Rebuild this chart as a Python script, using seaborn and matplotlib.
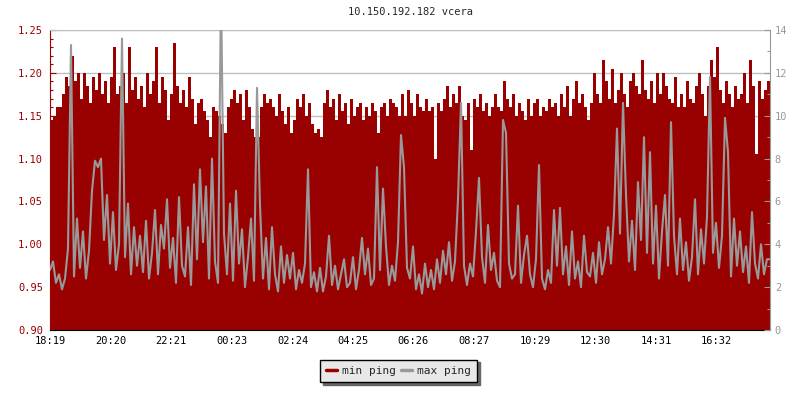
import matplotlib
matplotlib.use("Agg")
import numpy as np
import pandas as pd
import seaborn as sns
from matplotlib import pyplot as plt
from matplotlib.lines import Line2D
from matplotlib.ticker import MultipleLocator

TITLE = "10.150.192.182 vcera"
START = "18:19"
STEP_MIN = 6  # one sample every 6 minutes, 24 h window

tick_labels = ["18:19", "20:20", "22:21", "00:23", "02:24", "04:25",
               "06:26", "08:27", "10:29", "12:30", "14:31", "16:32"]

# min ping, left axis (ms)
min_ping = [
    1.145, 1.150, 1.160, 1.160, 1.175, 1.195, 1.185, 1.220, 1.190, 1.200,
    1.170, 1.200, 1.185, 1.165, 1.195, 1.180, 1.200, 1.175, 1.190, 1.165,
    1.195, 1.230, 1.175, 1.185, 1.200, 1.165, 1.230, 1.180, 1.195, 1.170,
    1.185, 1.160, 1.200, 1.175, 1.190, 1.230, 1.165, 1.195, 1.180, 1.145,
    1.175, 1.235, 1.185, 1.165, 1.180, 1.160, 1.195, 1.170, 1.140, 1.165,
    1.170, 1.155, 1.145, 1.125, 1.160, 1.155, 1.150, 1.140, 1.130, 1.160,
    1.170, 1.180, 1.165, 1.175, 1.145, 1.180, 1.160, 1.135, 1.125, 1.125,
    1.160, 1.175, 1.165, 1.170, 1.160, 1.150, 1.175, 1.155, 1.140, 1.160,
    1.130, 1.145, 1.170, 1.160, 1.175, 1.150, 1.165, 1.140, 1.130, 1.135,
    1.125, 1.165, 1.180, 1.160, 1.170, 1.145, 1.175, 1.155, 1.165, 1.140,
    1.170, 1.150, 1.160, 1.165, 1.145, 1.160, 1.150, 1.165, 1.155, 1.130,
    1.160, 1.165, 1.150, 1.170, 1.165, 1.160, 1.150, 1.175, 1.150, 1.180,
    1.165, 1.150, 1.175, 1.160, 1.155, 1.170, 1.155, 1.160, 1.100, 1.165,
    1.155, 1.170, 1.185, 1.160, 1.175, 1.165, 1.185, 1.150, 1.145, 1.165,
    1.110, 1.170, 1.160, 1.175, 1.155, 1.165, 1.150, 1.160, 1.175, 1.160,
    1.155, 1.190, 1.170, 1.160, 1.175, 1.150, 1.165, 1.155, 1.145, 1.170,
    1.150, 1.165, 1.170, 1.150, 1.160, 1.155, 1.170, 1.160, 1.165, 1.150,
    1.175, 1.160, 1.185, 1.150, 1.170, 1.190, 1.165, 1.175, 1.160, 1.145,
    1.165, 1.200, 1.175, 1.165, 1.215, 1.190, 1.170, 1.205, 1.165, 1.180,
    1.200, 1.175, 1.160, 1.190, 1.200, 1.185, 1.175, 1.215, 1.180, 1.170,
    1.190, 1.165, 1.200, 1.175, 1.200, 1.185, 1.170, 1.165, 1.195, 1.160,
    1.175, 1.160, 1.190, 1.170, 1.165, 1.185, 1.200, 1.175, 1.150, 1.185,
    1.215, 1.195, 1.230, 1.180, 1.165, 1.190, 1.175, 1.160, 1.185, 1.170,
    1.175, 1.200, 1.165, 1.215, 1.185, 1.105, 1.190, 1.170, 1.180, 1.190,
]

# max ping, right axis (ms)
max_ping = [
    2.8, 3.2, 2.2, 2.6, 1.9, 2.4, 3.8, 13.3, 2.5, 5.2,
    2.9, 4.6, 2.4, 3.7, 6.5, 7.9, 7.6, 8.0, 4.2, 6.3,
    3.1, 5.5, 2.8, 4.0, 13.6, 3.4, 5.9, 2.6, 4.8, 3.0,
    4.4, 2.7, 5.1, 2.4, 3.6, 5.6, 2.6, 4.9, 3.8, 6.1,
    2.9, 4.3, 2.2, 6.2, 3.0, 2.5, 4.8, 2.1, 6.8, 3.3,
    7.5, 4.1, 6.7, 2.4, 8.0, 3.2, 2.2, 16.0, 4.5, 2.6,
    5.9, 2.3, 6.5, 3.1, 4.7, 2.0, 3.4, 5.2, 2.3, 11.3,
    5.8, 2.4, 4.3, 1.9, 4.8, 2.6, 1.8, 3.9, 2.2, 3.5,
    2.4, 3.6, 1.9, 2.8, 2.2, 3.1, 7.5, 2.0, 2.7, 1.8,
    2.9, 1.8, 2.5, 4.4, 2.1, 3.0, 1.9, 2.6, 3.3, 2.0,
    2.2, 3.4, 1.9, 2.8, 4.3, 2.6, 3.8, 2.1, 2.4, 7.6,
    2.8, 6.6, 3.9, 2.1, 3.0, 2.3, 4.1, 9.1, 7.6, 2.9,
    2.4, 3.9, 1.9, 2.6, 1.7, 3.1, 2.0, 2.8, 1.9, 3.3,
    2.2, 3.7, 2.6, 4.1, 2.3, 3.2, 6.1, 10.6, 3.0, 2.1,
    3.1, 2.5, 4.6, 7.1, 3.4, 2.2, 4.9, 2.8, 3.6, 2.3,
    2.0, 9.8, 9.2, 3.1, 2.4, 2.6, 5.8, 2.2, 3.5, 4.4,
    2.6, 2.0, 3.3, 7.7, 2.4, 1.9, 2.8, 2.2, 5.6, 3.0,
    5.7, 2.6, 3.9, 2.1, 4.6, 2.4, 3.2, 2.0, 4.4, 2.7,
    2.5, 3.6, 2.2, 4.1, 2.6, 3.3, 4.8, 3.1, 5.4, 9.4,
    4.5, 10.6, 6.3, 3.2, 5.1, 2.8, 6.9, 4.2, 9.0, 3.6,
    8.3, 3.1, 5.8, 2.4, 4.6, 6.3, 3.0, 9.7, 4.4, 2.6,
    5.2, 2.8, 4.1, 2.3, 3.4, 6.1, 2.6, 4.7, 3.1, 5.3,
    11.8, 3.6, 5.0, 2.9, 4.4, 9.9, 8.3, 2.5, 5.2, 3.0,
    4.6, 2.7, 3.9, 2.2, 5.5, 3.1, 2.4, 4.0, 2.6, 3.3,
]

RED = "#990000"
GRAY = "#999999"
GRID = "#c0c0c0"
FS = 7.5


def minutes_from_start(label):
    h, m = map(int, label.split(":"))
    sh, sm = map(int, START.split(":"))
    return ((h * 60 + m) - (sh * 60 + sm)) % 1440


df = pd.DataFrame({"t": np.arange(len(min_ping)) * STEP_MIN,
                   "min_ping": min_ping, "max_ping": max_ping})
# repeat the last sample at the window end so the data reaches the right edge
df = pd.concat([df, df.iloc[[-1]].assign(t=1440)], ignore_index=True)

sns.set_style("white")
plt.rcParams["font.family"] = ["DejaVu Sans Mono"]
plt.rcParams["font.size"] = FS

fig = plt.figure(figsize=(8, 4), dpi=100)
ax = fig.add_axes([0.0625, 0.175, 0.9, 0.75])

ax.fill_between(df["t"], 0.9, df["min_ping"], step="post", color=RED, lw=0)
ax.set_xlim(0, 1440)
ax.set_ylim(0.90, 1.25)
ax.yaxis.set_major_locator(MultipleLocator(0.05))
ax.yaxis.set_minor_locator(MultipleLocator(0.01))
ax.yaxis.set_major_formatter(plt.FormatStrFormatter("%.2f"))
ax.set_xticks([minutes_from_start(l) for l in tick_labels])
ax.set_xticklabels(tick_labels)
ax.grid(axis="y", color=GRID, lw=1)
ax.grid(axis="x", visible=False)
ax.set_axisbelow(True)
ax.tick_params(axis="y", which="both", direction="in", colors=RED, labelcolor=RED,
               width=0.8, pad=5, labelsize=FS)
ax.tick_params(axis="y", which="major", length=4)
ax.tick_params(axis="y", which="minor", length=2.5)
ax.tick_params(axis="x", direction="in", length=4, width=0.8, colors="black", pad=4,
               labelsize=FS)
ax.set_xlabel("")
ax.set_ylabel("")
ax.spines["left"].set_color(RED)
ax.spines["bottom"].set_color("black")
ax.spines["right"].set_visible(False)
ax.spines["top"].set_color(GRID)

ax2 = ax.twinx()
sns.lineplot(data=df, x="t", y="max_ping", ax=ax2, color=GRAY, lw=1.5, legend=False)
ax2.set_ylim(0, 14)
ax2.set_xlim(0, 1440)
ax2.yaxis.set_major_locator(MultipleLocator(2))
ax2.yaxis.set_minor_locator(MultipleLocator(1))
ax2.tick_params(axis="y", which="both", direction="in", colors=GRAY, labelcolor=GRAY,
                width=0.8, pad=3.5, labelsize=FS)
ax2.tick_params(axis="y", which="major", length=4)
ax2.tick_params(axis="y", which="minor", length=2.5)
ax2.set_ylabel("")
ax2.set_xlabel("")
for side in ["left", "top", "bottom"]:
    ax2.spines[side].set_visible(False)
ax2.spines["right"].set_color(GRAY)

ax.set_title(TITLE, fontsize=FS, pad=11)

handles = [Line2D([], [], color=RED, lw=2.5), Line2D([], [], color=GRAY, lw=2.5)]
leg = fig.legend(handles, ["min ping", "max ping"], loc="center",
                 bbox_to_anchor=(0.498, 0.073), ncol=2, fontsize=FS + 0.5,
                 handlelength=1.0, handletextpad=0.4, columnspacing=0.5,
                 borderpad=0.55, fancybox=False, framealpha=1,
                 edgecolor="black", facecolor="#e8e8e8",
                 shadow={"color": "#666666", "alpha": 1})
leg.get_frame().set_linewidth(1)

fig.savefig("out.png", dpi=100)
